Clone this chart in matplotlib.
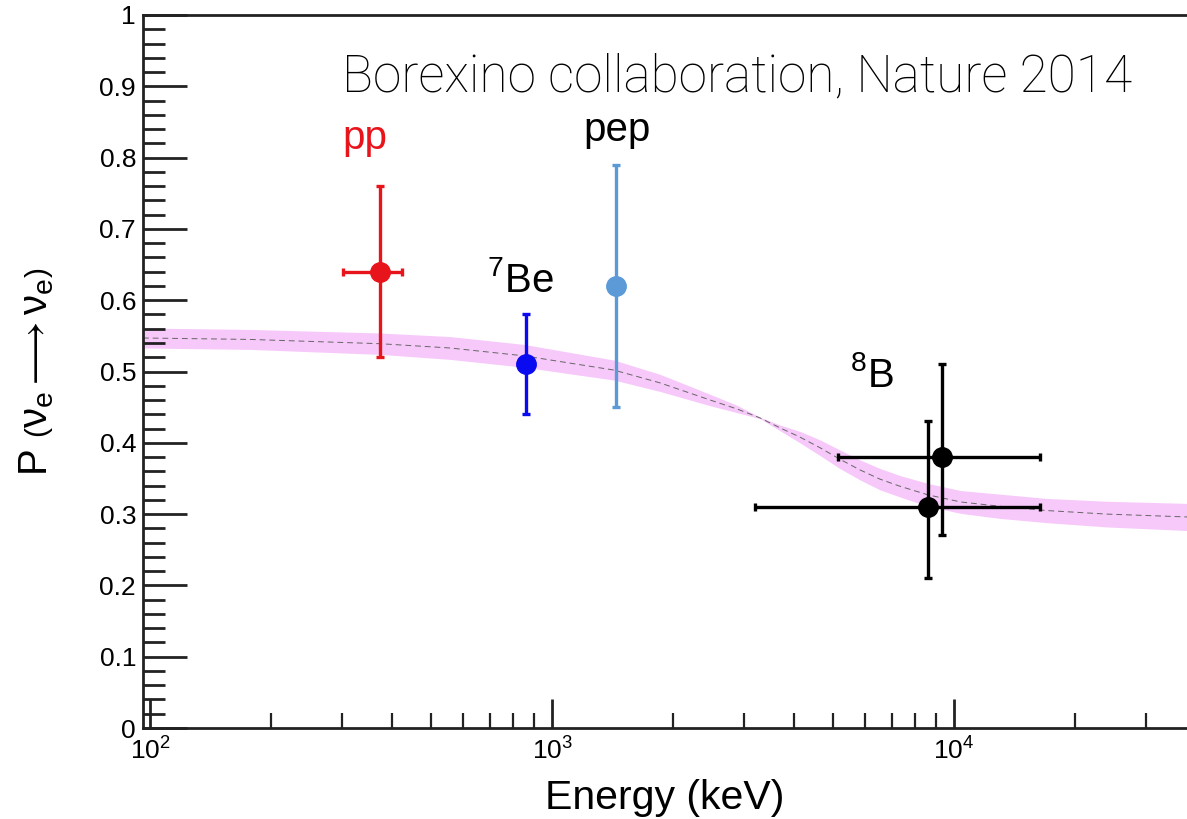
import numpy as np
import matplotlib
matplotlib.use("Agg")
import matplotlib.pyplot as plt

plt.rcParams['font.family'] = ['Liberation Sans', 'DejaVu Sans']
plt.rcParams['mathtext.fontset'] = 'custom'
plt.rcParams['mathtext.rm'] = 'Liberation Sans'
plt.rcParams['mathtext.it'] = 'Liberation Sans'

# Borexino survival probability measurements
pp_E, pp_P = 373, 0.64
pp_Elo, pp_Ehi = 302, 424
pp_Plo, pp_Phi = 0.52, 0.76

be7_E, be7_P = 862, 0.51
be7_Plo, be7_Phi = 0.44, 0.58

pep_E, pep_P = 1440, 0.62
pep_Plo, pep_Phi = 0.45, 0.79

b8_E = [8610, 9330]
b8_P = [0.31, 0.38]
b8_Elo = [3200, 5140]
b8_Ehi = [16400, 16400]
b8_Plo = [0.21, 0.27]
b8_Phi = [0.43, 0.51]

# MSW-LMA prediction, centre and half width of the 1 sigma band
band_E = [96, 177, 373, 557, 851, 1426, 1857, 2474, 2900, 3289, 3690,
          4138, 4645, 5200, 5835, 6545, 7345, 8614, 10400, 13000, 17000,
          24000, 38000]
band_P = [0.547, 0.545, 0.539, 0.533, 0.522, 0.502, 0.484, 0.460, 0.447,
          0.435, 0.421, 0.408, 0.393, 0.377, 0.362, 0.349, 0.339, 0.327,
          0.317, 0.311, 0.305, 0.300, 0.296]
band_dP = [0.014, 0.014, 0.015, 0.016, 0.016, 0.014, 0.012, 0.008, 0.005,
           0.001, 0.004, 0.008, 0.011, 0.013, 0.014, 0.015, 0.015, 0.016,
           0.016, 0.017, 0.017, 0.018, 0.019]

fig = plt.figure(figsize=(11.87, 8.19), dpi=100)
ax = fig.add_axes([143/1187, 91/819, 1 - 143/1187, 713/819])

band_P = np.array(band_P)
band_dP = np.array(band_dP)
ax.fill_between(band_E, band_P - band_dP, band_P + band_dP,
                color='#f7c8fa', lw=0, zorder=1)
ax.plot(band_E, band_P, color='#666666', lw=0.7, ls=(0, (6, 4)), zorder=2)

ekw = dict(fmt='o', ms=14, elinewidth=2.4, capsize=3, capthick=2.4, zorder=3)
ax.errorbar([pp_E], [pp_P],
            xerr=[[pp_E - pp_Elo], [pp_Ehi - pp_E]],
            yerr=[[pp_P - pp_Plo], [pp_Phi - pp_P]],
            color='#e8141b', **ekw)
ax.errorbar([be7_E], [be7_P],
            yerr=[[be7_P - be7_Plo], [be7_Phi - be7_P]],
            color='#0a0af0', **ekw)
ax.errorbar([pep_E], [pep_P],
            yerr=[[pep_P - pep_Plo], [pep_Phi - pep_P]],
            color='#5b9ad6', **ekw)
for e, p, elo, ehi, plo, phi in zip(b8_E, b8_P, b8_Elo, b8_Ehi, b8_Plo, b8_Phi):
    ax.errorbar([e], [p], xerr=[[e - elo], [ehi - e]],
                yerr=[[p - plo], [phi - p]], color='black', **ekw)

ax.set_xscale('log')
ax.set_xlim(96, 38000)
ax.set_ylim(0, 1)
ax.set_yticks(np.arange(0, 1.01, 0.1))
ax.set_yticklabels(['0', '0.1', '0.2', '0.3', '0.4', '0.5', '0.6', '0.7',
                    '0.8', '0.9', '1'])
ax.set_yticks(np.arange(0, 1.0, 0.02), minor=True)
ax.set_xticks([100, 1000, 10000])
ax.set_xticklabels([r'$10^{2}$', r'$10^{3}$', r'$10^{4}$'])
ax.tick_params(axis='both', which='both', direction='in', width=2,
               labelsize=19, color='#222222')
ax.tick_params(axis='y', which='major', length=32, pad=5)
ax.tick_params(axis='y', which='minor', length=16)
ax.tick_params(axis='x', which='major', length=21, pad=7)
ax.tick_params(axis='x', which='minor', length=11, width=1.6)
ax.spines['right'].set_visible(False)
for s in ['left', 'bottom', 'top']:
    ax.spines[s].set_linewidth(2)
    ax.spines[s].set_color('#222222')

ax.text(343, 0.827, 'pp', color='#e8141b', fontsize=29, ha='center', va='center')
ax.text(1452, 0.839, 'pep', color='black', fontsize=29, ha='center', va='center')
ax.text(832, 0.628, r'$^{7}$Be', color='black', fontsize=29, ha='center', va='center')
ax.text(6250, 0.495, r'$^{8}$B', color='black', fontsize=29, ha='center', va='center')
ax.text(300, 0.912, 'Borexino collaboration, Nature 2014', family=['Roboto', 'DejaVu Sans'],
        fontweight='light', fontsize=37, ha='left', va='center')

fig.text(665/1187, 1 - 798/819, 'Energy (keV)', fontsize=29.5, ha='center', va='center')
fig.text(37/1187, 1 - 372/819, r'P $\left(\nu_{e} \longrightarrow \nu_{e}\right)$',
         fontsize=29, rotation=90, ha='center', va='center')

fig.savefig('out.png', dpi=100)
